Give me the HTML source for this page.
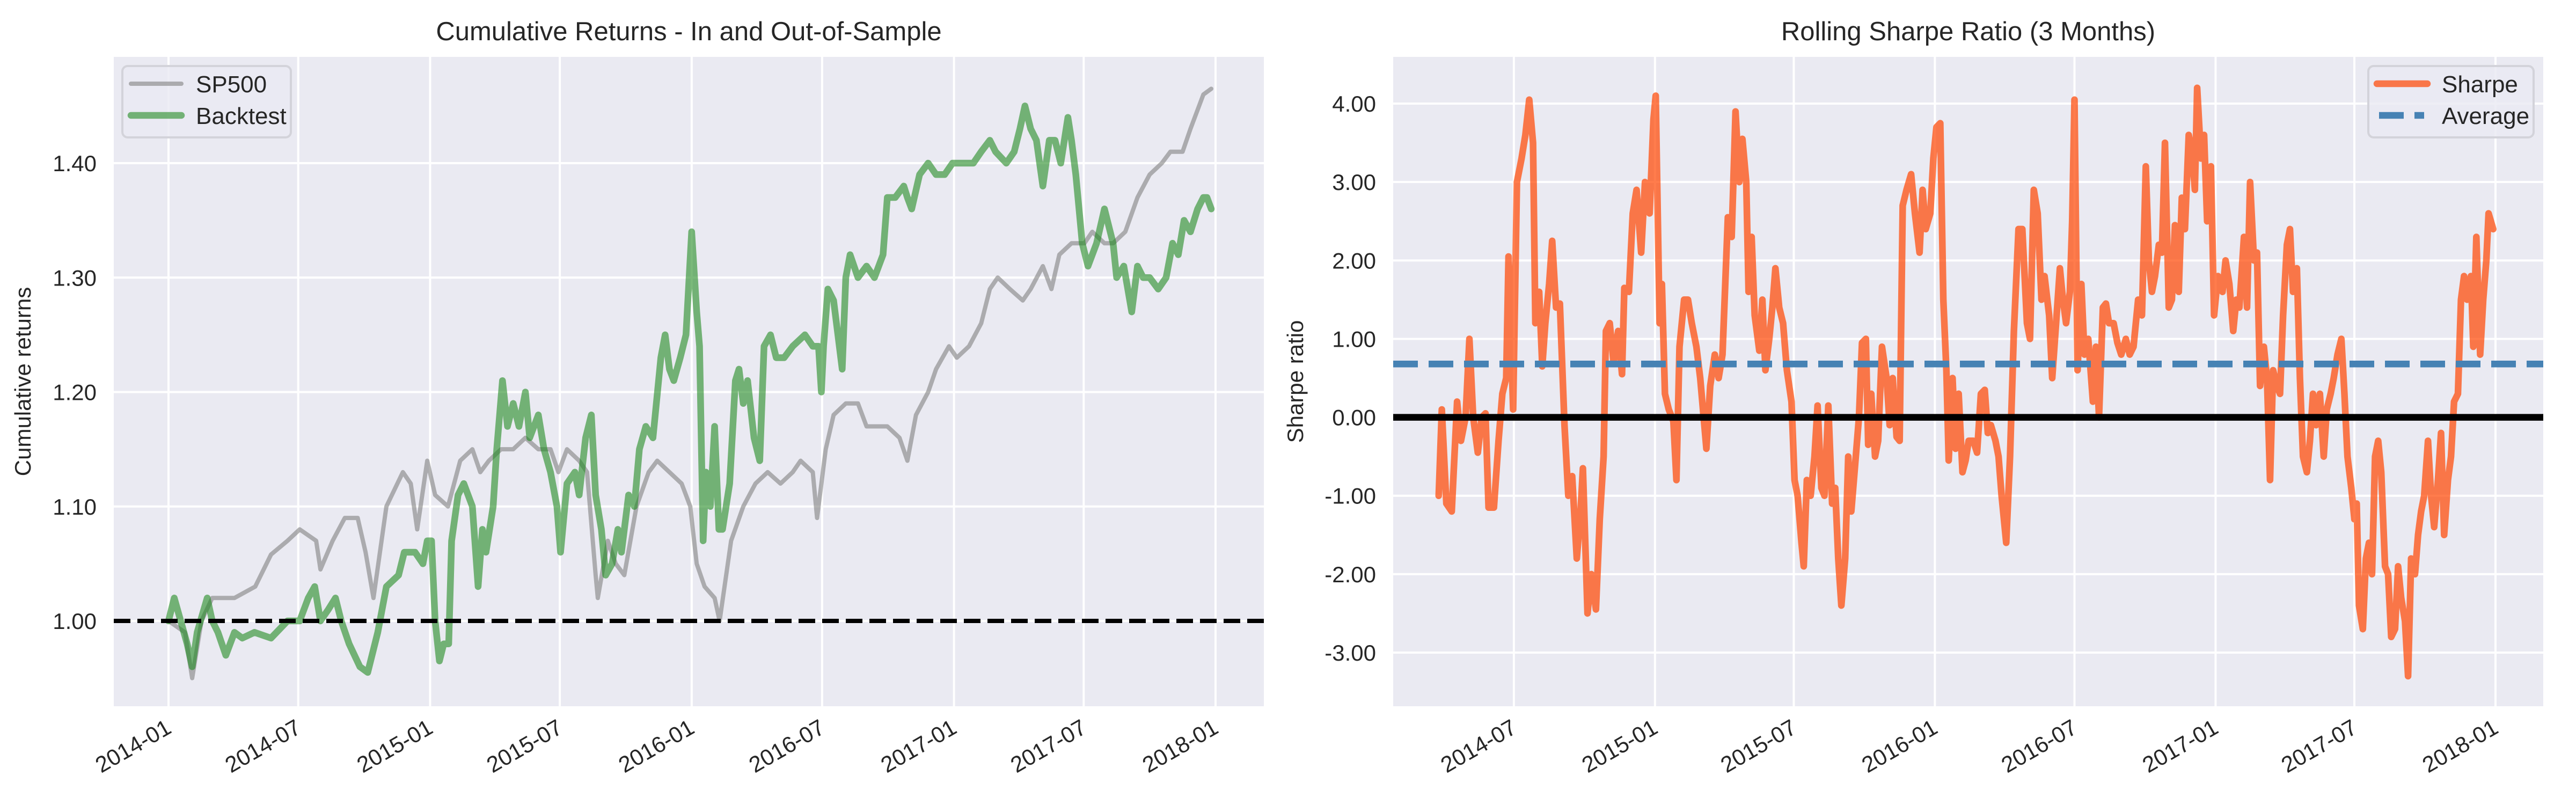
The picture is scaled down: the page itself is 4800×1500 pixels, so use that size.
<!DOCTYPE html>
<html><head><meta charset="utf-8"><style>
html,body{margin:0;padding:0;background:#fff;}
svg{display:block;font-family:"Liberation Sans",Arial,sans-serif;}
</style></head><body>
<svg id="fig" width="4800" height="1500" viewBox="0 0 4800 1500" xmlns="http://www.w3.org/2000/svg">
<rect x="0" y="0" width="4800" height="1500" fill="#fff"/>
<g id="left"></g>
<g id="right"></g>
</svg>
<script>
// ---- data: cumulative returns (days since 2014-01-01) ----
const spDays=[0,23,33,46,61,92,121,143,166,183,206,212,229,246,264,275,286,304,327,338,347,361,372,390,407,424,435,447,464,481,498,516,533,544,556,573,584,596,599,613,624,636,653,670,682,699,716,728,737,748,762,769,785,802,819,836,854,871,882,899,905,917,928,945,962,974,985,1003,1020,1031,1043,1060,1071,1089,1100,1117,1134,1146,1157,1174,1192,1203,1220,1232,1243,1260,1278,1289,1306,1318,1335,1352,1369,1386,1398,1415,1426,1444,1455];
const spVals=[1.00,0.99,0.95,1.00,1.02,1.02,1.03,1.058,1.07,1.08,1.07,1.045,1.07,1.09,1.09,1.06,1.02,1.10,1.13,1.12,1.08,1.14,1.11,1.10,1.14,1.15,1.13,1.14,1.15,1.15,1.16,1.15,1.15,1.13,1.15,1.14,1.13,1.04,1.02,1.07,1.05,1.04,1.10,1.13,1.14,1.13,1.12,1.10,1.05,1.03,1.02,1.00,1.07,1.10,1.12,1.13,1.12,1.13,1.14,1.13,1.09,1.15,1.18,1.19,1.19,1.17,1.17,1.17,1.16,1.14,1.18,1.20,1.22,1.24,1.23,1.24,1.26,1.29,1.30,1.29,1.28,1.29,1.31,1.29,1.32,1.33,1.33,1.34,1.33,1.33,1.34,1.37,1.39,1.40,1.41,1.41,1.43,1.46,1.465];
const btDays=[0,8,17,26,33,40,54,61,69,80,92,103,120,143,166,183,195,204,212,223,233,241,252,267,278,292,304,321,329,344,355,361,367,372,378,384,391,395,404,412,424,432,438,443,453,458,466,473,481,489,498,504,516,524,533,542,547,556,567,573,582,590,596,604,610,619,627,632,642,650,657,666,676,687,693,699,705,714,722,730,737,741,746,750,756,762,768,773,783,791,796,802,808,817,825,831,840,848,859,871,888,899,907,911,914,920,928,934,940,945,951,962,974,985,997,1003,1014,1026,1031,1037,1048,1060,1071,1083,1094,1111,1123,1134,1146,1154,1169,1180,1188,1195,1203,1211,1220,1229,1237,1245,1255,1260,1266,1275,1283,1295,1306,1318,1323,1333,1344,1352,1360,1369,1381,1392,1401,1409,1417,1426,1436,1444,1449,1455];
const btVals=[1.00,1.02,1.00,0.98,0.96,0.99,1.02,1.00,0.99,0.97,0.99,0.985,0.99,0.985,1.00,1.00,1.02,1.03,1.00,1.01,1.02,1.00,0.98,0.96,0.955,0.99,1.03,1.04,1.06,1.06,1.05,1.07,1.07,1.00,0.965,0.98,0.98,1.07,1.11,1.12,1.10,1.03,1.08,1.06,1.10,1.15,1.21,1.17,1.19,1.17,1.20,1.16,1.18,1.15,1.13,1.10,1.06,1.12,1.13,1.11,1.16,1.18,1.11,1.08,1.04,1.05,1.08,1.06,1.11,1.10,1.15,1.17,1.16,1.23,1.25,1.22,1.21,1.23,1.25,1.34,1.27,1.24,1.07,1.13,1.10,1.17,1.08,1.08,1.12,1.21,1.22,1.19,1.21,1.16,1.14,1.24,1.25,1.23,1.23,1.24,1.25,1.24,1.24,1.20,1.24,1.29,1.28,1.25,1.22,1.30,1.32,1.30,1.31,1.30,1.32,1.37,1.37,1.38,1.37,1.36,1.39,1.40,1.39,1.39,1.40,1.40,1.40,1.41,1.42,1.41,1.40,1.41,1.43,1.45,1.43,1.42,1.38,1.42,1.42,1.40,1.44,1.42,1.39,1.33,1.31,1.33,1.36,1.33,1.30,1.31,1.27,1.31,1.30,1.30,1.29,1.30,1.33,1.32,1.35,1.34,1.36,1.37,1.37,1.36];
const leftYTicks=[1.00,1.10,1.20,1.30,1.40];
const xTickDays=[0,181,365,546,730,912,1096,1277,1461];
const xTickLabels=["2014-01","2014-07","2015-01","2015-07","2016-01","2016-07","2017-01","2017-07","2018-01"];
// ---- data: rolling sharpe ----
const shDays=[83,87,93,100,107,112,118,123,128,134,139,144,148,155,161,166,171,174,180,185,191,196,201,206,209,214,218,222,227,231,236,241,247,252,257,263,268,271,277,282,288,293,298,301,306,311,317,322,325,331,336,341,347,352,358,363,366,371,374,378,383,389,393,397,403,408,413,419,424,432,437,443,448,453,460,465,470,475,479,484,487,491,495,501,505,509,514,518,522,527,532,537,543,547,551,556,559,563,568,573,577,582,586,591,596,600,604,608,613,617,621,626,631,635,640,643,647,652,656,661,667,671,675,680,684,688,693,699,704,710,714,718,724,728,732,737,741,745,748,753,757,761,766,770,774,780,785,790,795,799,803,809,813,817,823,828,833,839,844,850,854,859,864,869,873,879,883,888,893,897,901,906,909,912,916,921,925,930,936,940,944,949,953,957,963,968,973,979,984,989,995,1000,1005,1009,1013,1017,1022,1026,1030,1035,1039,1043,1048,1052,1056,1061,1065,1069,1072,1077,1081,1085,1090,1094,1099,1105,1109,1114,1119,1123,1127,1133,1137,1141,1146,1150,1154,1159,1163,1167,1171,1176,1180,1184,1189,1193,1197,1202,1206,1210,1215,1219,1223,1227,1232,1237,1241,1246,1250,1255,1260,1264,1268,1273,1277,1280,1283,1288,1292,1296,1300,1304,1308,1312,1317,1321,1325,1330,1334,1338,1343,1347,1351,1356,1360,1364,1368,1373,1377,1381,1386,1390,1394,1399,1403,1407,1412,1416,1420,1424,1429,1432,1436,1441,1445,1449,1452,1458];
const shVals=[-1.0,0.1,-1.1,-1.2,0.2,-0.3,0.0,1.0,0.0,-0.45,0.0,0.05,-1.15,-1.15,-0.3,0.3,0.5,2.05,0.1,3.0,3.3,3.6,4.05,3.5,1.2,1.6,0.65,1.2,1.7,2.25,1.4,1.45,-0.1,-1.0,-0.75,-1.8,-1.2,-0.65,-2.5,-2.0,-2.45,-1.3,-0.5,1.1,1.2,0.7,1.1,0.55,1.65,1.6,2.6,2.9,2.1,3.0,2.6,3.8,4.1,1.2,1.7,0.3,0.1,-0.05,-0.8,0.9,1.5,1.5,1.2,0.9,0.5,-0.4,0.4,0.8,0.5,0.8,2.55,2.3,3.9,3.0,3.55,3.0,1.6,2.3,1.3,0.85,1.5,0.6,1.0,1.4,1.9,1.4,1.2,0.6,0.2,-0.8,-1.0,-1.6,-1.9,-0.8,-1.0,-0.5,0.15,-0.9,-1.0,0.15,-1.1,-0.9,-1.8,-2.4,-1.8,-0.5,-1.2,-0.6,0.0,0.95,1.0,-0.35,0.3,-0.5,-0.3,0.9,0.5,-0.1,0.5,-0.25,-0.3,2.7,2.9,3.1,2.6,2.1,2.9,2.4,2.6,3.3,3.7,3.75,1.5,0.6,-0.55,0.5,-0.4,0.3,-0.7,-0.55,-0.3,-0.3,-0.45,0.3,0.35,-0.2,-0.1,-0.3,-0.5,-1.0,-1.6,-0.5,1.1,2.4,2.4,1.2,1.0,2.9,2.6,1.5,1.8,1.3,0.5,1.2,1.9,1.5,1.2,1.6,2.5,4.05,0.6,1.7,0.8,1.0,0.2,0.9,0.0,1.4,1.45,1.2,1.2,0.95,0.8,1.0,0.8,0.9,1.5,1.3,3.2,2.0,1.6,1.8,2.2,2.1,3.5,1.4,1.5,2.45,1.6,2.8,2.4,3.6,3.4,2.9,4.2,3.3,3.6,2.5,3.2,1.3,1.8,1.6,2.0,1.7,1.1,1.5,1.4,2.3,1.4,3.0,2.0,2.1,0.4,0.9,0.5,-0.8,0.6,0.4,0.3,1.3,2.2,2.4,1.6,1.9,0.5,-0.5,-0.7,-0.3,0.3,-0.1,0.3,-0.5,0.1,0.3,0.5,0.8,1.0,0.3,-0.5,-0.9,-1.3,-1.1,-2.4,-2.7,-1.8,-1.6,-2.0,-0.5,-0.3,-0.7,-1.9,-2.0,-2.8,-2.7,-1.9,-2.3,-2.6,-3.3,-1.8,-2.0,-1.5,-1.2,-1.0,-0.3,-1.0,-1.4,-0.8,-0.2,-1.5,-0.8,-0.5,0.2,0.3,1.5,1.8,1.5,1.8,0.9,2.3,0.8,1.5,2.0,2.6,2.4];
const shAverage=[0.68];
const rightYTicks=[-3,-2,-1,0,1,2,3,4];
const rightXTickDays=[181,365,546,730,912,1096,1277,1461];
const rightXTickLabels=["2014-07","2015-01","2015-07","2016-01","2016-07","2017-01","2017-07","2018-01"];

const NS="http://www.w3.org/2000/svg";
function mk(parent,tag,attrs){const e=document.createElementNS(NS,tag);for(const k in attrs)e.setAttribute(k,attrs[k]);parent.appendChild(e);return e;}
const TOP=106,BOT=1316;
const L={x0:212,x1:2355};
const lx=d=>314+d*1.3354;
const ly=v=>1157-(v-1.0)*2132.5;
const R={x0:2596,x1:4739};
const rx=d=>4650+(d-1461)*1.429;
const ry=v=>777.6-v*146.14;

function axesBg(g,ax){
  const bg=mk(g,'rect',{x:ax.x0,y:TOP,width:ax.x1-ax.x0,height:BOT-TOP,fill:'#eaeaf2'});
  
  
}
function grid(g,ax,xs,ys){
  xs.forEach(x=>{const l=mk(g,'line',{x1:x,x2:x,y1:TOP,y2:BOT,stroke:'#fff','stroke-width':4});
    
    });
  ys.forEach(y=>{const l=mk(g,'line',{x1:ax.x0,x2:ax.x1,y1:y,y2:y,stroke:'#fff','stroke-width':4});
    
    });
}
function xLabels(g,days,labels,fx){
  days.forEach((d,i)=>{const t=mk(g,'text',{x:0,y:0,'font-size':42,fill:'#262626','text-anchor':'end',transform:`translate(${fx(d)+8},${BOT+48}) rotate(-30)`});
    t.textContent=labels[i];
    
    });
}
function yLabels(g,vals,fy,xr,fmt){
  vals.forEach(v=>{const t=mk(g,'text',{x:xr,y:fy(v)+15,'font-size':42,fill:'#262626','text-anchor':'end'});
    t.textContent=fmt(v);
    
    });
}
function path(g,xs,ys,fx,fy,attrs){
  let d='';for(let i=0;i<xs.length;i++)d+=(i?'L':'M')+fx(xs[i]).toFixed(1)+','+fy(ys[i]).toFixed(1);
  attrs.d=d;attrs.fill='none';attrs['stroke-linejoin']='round';attrs['stroke-linecap']='round';
  return mk(g,'path',attrs);
}
function legend(g,x0,x1,items){
  const f=mk(g,'rect',{x:x0,y:123,width:x1-x0,height:133,rx:10,fill:'#eaeaf2','fill-opacity':0.8,stroke:'#d3d3da','stroke-width':4});
  
  
  items.forEach((it,i)=>{
    const y=156+i*59;
    const gg=mk(g,'g',{});
    
    
    const la={x1:x0+16,x2:x0+110,y1:y,y2:y,stroke:it.color,'stroke-width':it.w,'stroke-opacity':it.op};
    if(it.dash){la['stroke-dasharray']=it.dash;la.x1=x0+20;la.x2=x0+104;}else{la['stroke-linecap']='round';}
    mk(gg,'line',la);
    const t=mk(gg,'text',{x:x0+137,y:y+16,'font-size':44,fill:'#262626'});
    t.textContent=it.label;
  });
}
function title(g,cx,txt){
  const t=mk(g,'text',{x:cx,y:75,'font-size':49,fill:'#262626','text-anchor':'middle'});
  t.textContent=txt;
  
  
}
function ylab(g,x,txt){
  const t=mk(g,'text',{x:0,y:0,'font-size':42,fill:'#262626','text-anchor':'middle',transform:`translate(${x},711) rotate(-90)`});
  t.textContent=txt;
  
  
}

const gl=document.getElementById('left');
axesBg(gl,L);
grid(gl,L,xTickDays.map(lx),leftYTicks.map(ly));
const sp=path(gl,spDays,spVals,lx,ly,{stroke:'gray','stroke-opacity':0.6,'stroke-width':8});


const bt=path(gl,btDays,btVals,lx,ly,{stroke:'forestgreen','stroke-opacity':0.6,'stroke-width':12.5});


const one=mk(gl,'line',{x1:L.x0,x2:L.x1,y1:ly(1),y2:ly(1),stroke:'#000','stroke-width':8,'stroke-dasharray':'31 13'});


xLabels(gl,xTickDays,xTickLabels,lx);
yLabels(gl,leftYTicks,ly,180,v=>v.toFixed(2));
title(gl,(L.x0+L.x1)/2,'Cumulative Returns - In and Out-of-Sample');
ylab(gl,57,'Cumulative returns');
legend(gl,228,542,[{label:'SP500',color:'gray',w:8,op:0.6},{label:'Backtest',color:'forestgreen',w:12.5,op:0.6}]);

const gr=document.getElementById('right');
axesBg(gr,R);
grid(gr,R,rightXTickDays.map(rx),rightYTicks.map(ry));
const sh=path(gr,shDays,shVals,rx,ry,{stroke:'orangered','stroke-opacity':0.7,'stroke-width':12.5});


const av=mk(gr,'line',{x1:R.x0,x2:R.x1,y1:ry(shAverage[0]),y2:ry(shAverage[0]),stroke:'steelblue','stroke-width':12.5,'stroke-dasharray':'46 20'});


const z=mk(gr,'line',{x1:R.x0,x2:R.x1,y1:ry(0),y2:ry(0),stroke:'#000','stroke-width':12.5});


xLabels(gr,rightXTickDays,rightXTickLabels,rx);
yLabels(gr,rightYTicks,ry,2564,v=>v.toFixed(2));
title(gr,(R.x0+R.x1)/2,'Rolling Sharpe Ratio (3 Months)');
ylab(gr,2428,'Sharpe ratio');
legend(gr,4413,4721,[{label:'Sharpe',color:'orangered',w:12.5,op:0.7},{label:'Average',color:'steelblue',w:12.5,op:1,dash:'46 20'}]);
</script>
</body></html>
